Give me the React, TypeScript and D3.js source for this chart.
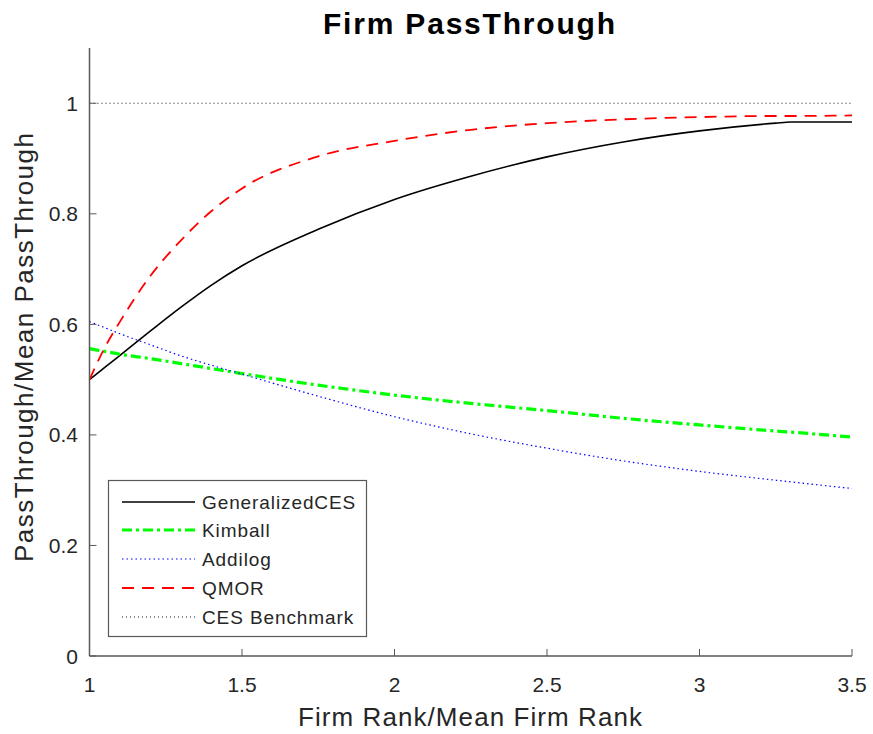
import React from "react";
import * as d3 from "d3";

const xGrid = [1, 1.05, 1.1, 1.2, 1.3, 1.4, 1.5, 1.75, 2, 2.25, 2.5, 2.75, 3, 3.25, 3.3, 3.5];
const genCES = [0.5, 0.522, 0.544, 0.588, 0.631, 0.671, 0.706, 0.772, 0.826, 0.868, 0.903, 0.93, 0.95, 0.964, 0.966, 0.966];
const qmor = [0.5, 0.558, 0.605, 0.688, 0.752, 0.805, 0.846, 0.904, 0.932, 0.952, 0.964, 0.971, 0.975, 0.977, 0.977, 0.978];
const kimball = [0.556, 0.551, 0.546, 0.538, 0.529, 0.52, 0.511, 0.49, 0.472, 0.457, 0.444, 0.43, 0.418, 0.407, 0.405, 0.396];
const addilog = [0.605, 0.594, 0.583, 0.563, 0.543, 0.526, 0.51, 0.47, 0.433, 0.402, 0.376, 0.353, 0.334, 0.318, 0.315, 0.303];
const benchmark = [1, 1];
const benchX = [1, 3.5];

const xTicks = [1, 1.5, 2, 2.5, 3, 3.5];
const yTicks = [0, 0.2, 0.4, 0.6, 0.8, 1];

const series = [
  { name: "GeneralizedCES", xs: xGrid, ys: genCES, color: "#000", width: 1.6, dash: "" },
  { name: "Kimball", xs: xGrid, ys: kimball, color: "#00ff00", width: 3.2, dash: "10,4,3,4" },
  { name: "Addilog", xs: xGrid, ys: addilog, color: "#0000ff", width: 1.2, dash: "1.5,3" },
  { name: "QMOR", xs: xGrid, ys: qmor, color: "#ff0000", width: 1.8, dash: "12,8" },
  { name: "CES Benchmark", xs: benchX, ys: benchmark, color: "#000", width: 0.9, dash: "1,3" },
];

export default function App() {
  const W = 873, H = 734;
  const L = 89.5, R = 852, T = 48, B = 656;
  const x = d3.scaleLinear().domain([1, 3.5]).range([L, R]);
  const y = d3.scaleLinear().domain([0, 1.1]).range([B, T]);
  const font = "'Liberation Sans', Arial, sans-serif";
  const axisColor = "#595959";
  const textColor = "#262626";

  const line = (xs: number[], ys: number[]) =>
    d3.line<number>().x((_, i) => x(xs[i])).y((d) => y(d)).curve(d3.curveMonotoneX)(ys) || "";

  const legX = 108.5, legY = 480.5, legW = 258, legH = 156;
  const rowYs = [502, 530, 559, 588, 617];

  return (
    <svg width={W} height={H} style={{ position: "absolute", left: 0, top: 0, background: "#fff" }}>
      <rect x={0} y={0} width={W} height={H} fill="#fff" />
      <text x={469} y={34} textAnchor="middle" fontFamily={font} fontWeight="bold" fontSize={30} fill="#000" textLength={292} lengthAdjust="spacing">
        Firm PassThrough
      </text>
      {series.map((s) => (
        <path key={s.name} d={line(s.xs, s.ys)} fill="none" stroke={s.color} strokeWidth={s.width} strokeDasharray={s.dash || undefined} />
      ))}
      {/* axes */}
      <line x1={L} x2={L} y1={T} y2={B} stroke={axisColor} strokeWidth={1.5} />
      <line x1={L} x2={R} y1={B} y2={B} stroke={axisColor} strokeWidth={1.5} />
      {xTicks.map((t) => (
        <g key={"x" + t}>
          <line x1={x(t)} x2={x(t)} y1={B} y2={B - 7} stroke={axisColor} strokeWidth={1} />
          <text x={x(t)} y={692} textAnchor="middle" fontFamily={font} fontSize={21} fill={textColor}>
            {String(t)}
          </text>
        </g>
      ))}
      {yTicks.map((t) => (
        <g key={"y" + t}>
          <line x1={L} x2={L + 7} y1={y(t)} y2={y(t)} stroke={axisColor} strokeWidth={1} />
          <text x={78} y={y(t) + 7.5} textAnchor="end" fontFamily={font} fontSize={21} fill={textColor}>
            {String(t)}
          </text>
        </g>
      ))}
      <text x={470} y={726} textAnchor="middle" fontFamily={font} fontSize={26} fill={textColor} textLength={344} lengthAdjust="spacing">
        Firm Rank/Mean Firm Rank
      </text>
      <text transform={`translate(33,347.5) rotate(-90)`} textAnchor="middle" fontFamily={font} fontSize={26} fill={textColor} textLength={429} lengthAdjust="spacing">
        PassThrough/Mean PassThrough
      </text>
      {/* legend */}
      <rect x={legX} y={legY} width={legW} height={legH} fill="#fff" stroke={axisColor} strokeWidth={1.2} />
      {series.map((s, i) => (
        <g key={"leg" + s.name}>
          <line x1={122} x2={195} y1={rowYs[i]} y2={rowYs[i]} stroke={s.color} strokeWidth={s.width} strokeDasharray={s.dash || undefined} />
          <text x={202} y={rowYs[i] + 7} fontFamily={font} fontSize={19} fill={textColor} letterSpacing={0.9}>
            {s.name}
          </text>
        </g>
      ))}
    </svg>
  );
}
